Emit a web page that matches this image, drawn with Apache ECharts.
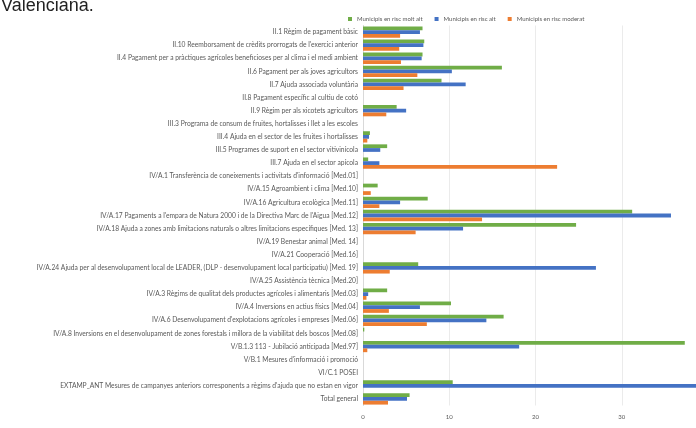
<!DOCTYPE html>
<html>
<head>
<meta charset="utf-8">
<script src="https://cdn.jsdelivr.net/npm/echarts@6/dist/echarts.min.js"></script>
<style>
html,body{margin:0;padding:0;background:#fff;}
#c{width:696px;height:428px;}
</style>
</head>
<body>
<div id="c"></div>
<script>
const categories = [
  "II.1 Règim de pagament bàsic",
  "II.10 Reemborsament de crèdits prorrogats de l'exercici anterior",
  "II.4 Pagament per a pràctiques agrícoles beneficioses per al clima i el medi ambient",
  "II.6 Pagament per als joves agricultors",
  "II.7 Ajuda associada voluntària",
  "II.8 Pagament específic al cultiu de cotó",
  "II.9 Règim per als xicotets agricultors",
  "III.3 Programa de consum de fruites, hortalisses i llet a les escoles",
  "III.4 Ajuda en el sector de les fruites i hortalisses",
  "III.5 Programes de suport en el sector vitivinícola",
  "III.7 Ajuda en el sector apícola",
  "IV/A.1 Transferència de coneixements i activitats d'informació [Med.01]",
  "IV/A.15 Agroambient i clima [Med.10]",
  "IV/A.16 Agricultura ecològica [Med.11]",
  "IV/A.17 Pagaments a l'empara de Natura 2000 i de la Directiva Marc de l'Aigua [Med.12]",
  "IV/A.18 Ajuda a zones amb limitacions naturals o altres limitacions específiques [Med. 13]",
  "IV/A.19 Benestar animal [Med. 14]",
  "IV/A.21 Cooperació [Med.16]",
  "IV/A.24 Ajuda per al desenvolupament local de LEADER, (DLP - desenvolupament local participatiu) [Med. 19]",
  "IV/A.25 Assistència tècnica [Med.20]",
  "IV/A.3 Règims de qualitat dels productes agrícoles i alimentaris [Med.03]",
  "IV/A.4 Inversions en actius físics [Med.04]",
  "IV/A.6 Desenvolupament d'explotacions agrícoles i empreses [Med.06]",
  "IV/A.8 Inversions en el desenvolupament de zones forestals i millora de la viabilitat dels boscos [Med.08]",
  "V/B.1.3 113 - Jubilació anticipada [Med.97]",
  "V/B.1 Mesures d'informació i promoció",
  "VI/C.1 POSEI",
  "EXTAMP_ANT Mesures de campanyes anteriors corresponents a règims d'ajuda que no estan en vigor",
  "Total general"
];
const seriesNames = ["Municipis en risc molt alt", "Municipis en risc alt", "Municipis en risc moderat"];
const moltAlt  = [6.9, 7.1, 6.9, 16.1, 9.1, 0, 3.9, 0, 0.8, 2.8, 0.6, 0, 1.7, 7.5, 31.2, 24.7, 0, 0, 6.4, 0, 2.8, 10.2, 16.3, 0.15, 37.3, 0, 0, 10.4, 5.4];
const alt      = [6.6, 7.0, 6.8, 10.3, 11.9, 0, 5.0, 0, 0.7, 2.0, 1.9, 0, 0, 4.3, 35.7, 11.6, 0, 0, 27.0, 0, 0.6, 6.6, 14.3, 0, 18.1, 0, 0, 39.8, 5.1];
const moderat  = [4.3, 4.2, 4.4, 6.3, 4.7, 0, 2.7, 0, 0.5, 0, 22.5, 0, 0.9, 1.9, 13.8, 6.1, 0, 0, 3.1, 0, 0.4, 3.0, 7.4, 0, 0.5, 0, 0, 0, 2.9];
const xMin = 0, xMax = 38.6, xInterval = 10;
const colors = ["#70AD47", "#4472C4", "#ED7D31"];

const chart = echarts.init(document.getElementById('c'), null, {renderer: 'canvas'});
const lblFont = {fontFamily: 'Lato, "Open Sans", sans-serif', fontSize: 6.7, color: '#595959'};
chart.setOption({
  animation: false,
  backgroundColor: '#fff',
  graphic: [{
    type: 'text', left: 1, top: -3,
    style: {text: 'Valenciana.', font: '18px "Liberation Sans", sans-serif', fill: '#222'}
  }],
  legend: {
    data: seriesNames,
    top: 11, left: 343,
    itemWidth: 4, itemHeight: 4, itemGap: 12,
    icon: 'rect',
    textStyle: Object.assign({}, lblFont, {fontSize: 6})
  },
  grid: {left: 363, right: 0, top: 25.5, bottom: 22.5, containLabel: false},
  xAxis: {
    type: 'value', min: xMin, max: xMax, interval: xInterval,
    axisLine: {show: false}, axisTick: {show: false},
    splitLine: {show: true, lineStyle: {color: '#ebebeb', width: 1}},
    axisLabel: Object.assign({}, lblFont, {fontSize: 6, margin: 9, showMaxLabel: false})
  },
  yAxis: {
    type: 'category', data: categories, inverse: true,
    axisLine: {show: true, lineStyle: {color: '#d9d9d9'}},
    axisTick: {show: false},
    axisLabel: Object.assign({}, lblFont, {margin: 5, interval: 0})
  },
  series: [
    {name: seriesNames[0], type: 'bar', data: moltAlt, itemStyle: {color: colors[0]}, barGap: '0%', barCategoryGap: '14%', clip: true},
    {name: seriesNames[1], type: 'bar', data: alt, itemStyle: {color: colors[1]}, barGap: '0%', barCategoryGap: '14%', clip: true},
    {name: seriesNames[2], type: 'bar', data: moderat, itemStyle: {color: colors[2]}, barGap: '0%', barCategoryGap: '14%', clip: true}
  ]
});
</script>
</body>
</html>
